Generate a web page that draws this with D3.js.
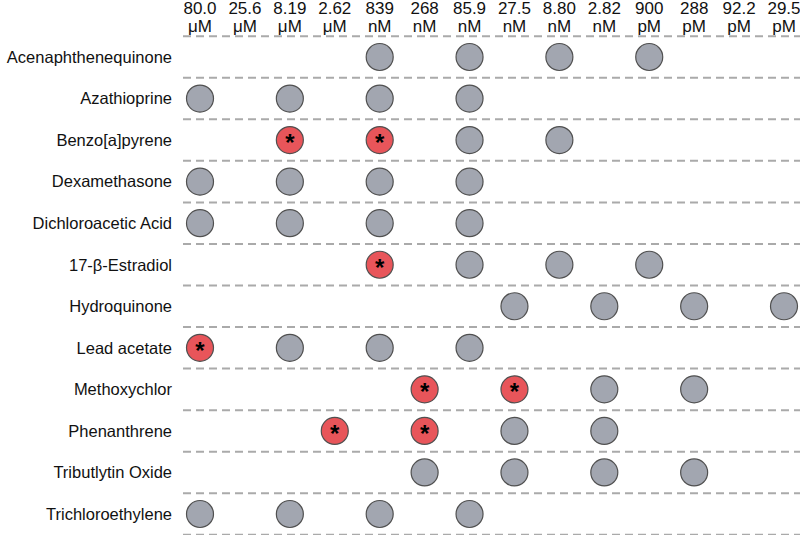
<!DOCTYPE html>
<html><head><meta charset="utf-8">
<script src="https://cdn.jsdelivr.net/npm/d3@7"></script>
<style>body{margin:0;background:#fff}svg{display:block;font-family:"Liberation Sans",Arial,sans-serif}</style>
</head><body><svg id="c" width="800" height="535"></svg>
<script>
const concValues = ["80.0","25.6","8.19","2.62","839","268","85.9","27.5","8.80","2.82","900","288","92.2","29.5"];
const concUnits = ["μM","μM","μM","μM","nM","nM","nM","nM","nM","nM","pM","pM","pM","pM"];
const chemicals = ["Acenaphthenequinone","Azathioprine","Benzo[a]pyrene","Dexamethasone","Dichloroacetic Acid","17-β-Estradiol","Hydroquinone","Lead acetate","Methoxychlor","Phenanthrene","Tributlytin Oxide","Trichloroethylene"];
// concentrations tested (column indices) per chemical
const tested = [[4,6,8,10],[0,2,4,6],[2,4,6,8],[0,2,4,6],[0,2,4,6],[4,6,8,10],[7,9,11,13],[0,2,4,6],[5,7,9,11],[3,5,7,9],[5,7,9,11],[0,2,4,6]];
// significant concentrations (column indices) per chemical
const significant = [[],[],[2,4],[],[],[4],[],[0],[5,7],[3,5],[],[]];

const svg = d3.select("#c");
const x = d3.scalePoint().domain(d3.range(concValues.length)).range([200, 784]);
const y = d3.scalePoint().domain(chemicals).range([57, 514]);
const step = y.step();

// dashed separators
const lines = d3.range(chemicals.length + 1).map(i => 57 - step/2 + i*step);
svg.selectAll("line.sep").data(lines).join("line")
  .attr("x1", 183).attr("x2", 800)
  .attr("y1", d => d).attr("y2", d => d)
  .attr("stroke", "#aaaaaa").attr("stroke-width", 2).attr("stroke-dasharray", "8,5");

// header
const hdr = svg.selectAll("g.h").data(concValues).join("g").attr("transform", (d,i) => `translate(${x(i)},0)`);
hdr.append("text").attr("y", 14).attr("text-anchor", "middle").attr("font-size", 17).attr("fill", "#111").text(d => d);
hdr.append("text").attr("y", 32).attr("text-anchor", "middle").attr("font-size", 17).attr("fill", "#111").text((d,i) => concUnits[i]);

// row labels
svg.selectAll("text.lab").data(chemicals).join("text")
  .attr("x", 172).attr("y", d => y(d)).attr("dy", "0.35em")
  .attr("text-anchor", "end").attr("font-size", 16.5).attr("fill", "#111").text(d => d);

// circles
const pts = [];
chemicals.forEach((c, r) => tested[r].forEach(ci => pts.push({c, ci, sig: significant[r].includes(ci)})));
const g = svg.selectAll("g.p").data(pts).join("g").attr("transform", d => `translate(${x(d.ci)},${y(d.c)})`);
g.append("circle").attr("r", 13.5)
  .attr("fill", d => d.sig ? "#e8555a" : "#a2a6b0")
  .attr("stroke", "#505050").attr("stroke-width", 1.2);
g.filter(d => d.sig).append("text").attr("text-anchor", "middle").attr("y", 11)
  .attr("font-size", 24).attr("font-weight", "bold").attr("fill", "#000").text("*");
</script></body></html>
